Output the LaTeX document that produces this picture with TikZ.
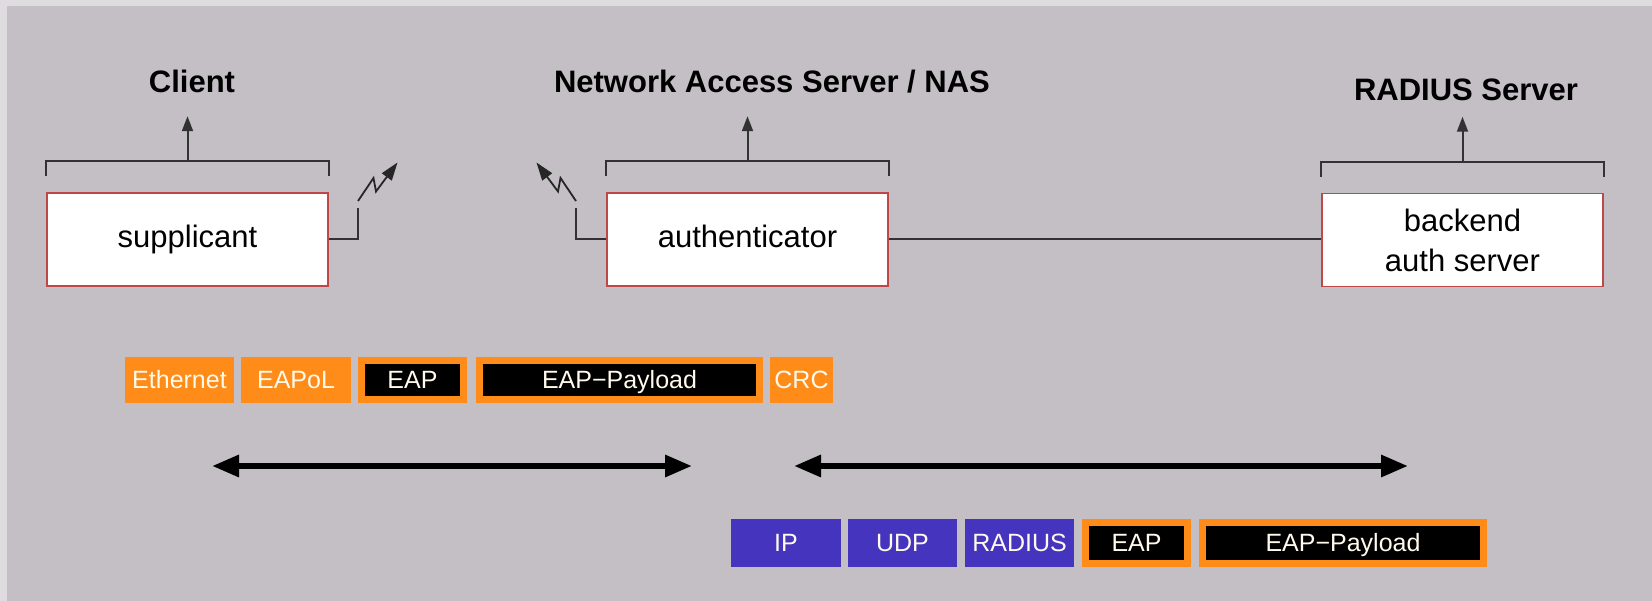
\documentclass[tikz,border=0pt]{standalone}
\usepackage{fontspec}
\setmainfont{Liberation Sans}
\usetikzlibrary{arrows.meta,calc}

\definecolor{bg}{RGB}{195,191,196}
\definecolor{bgedge}{RGB}{222,220,223}
\definecolor{pkorange}{RGB}{255,140,24}
\definecolor{pkblue}{RGB}{68,52,190}
\definecolor{boxred}{RGB}{190,72,72}
\definecolor{wirecol}{RGB}{50,50,50}
\definecolor{pktext}{RGB}{255,250,236}

\tikzset{
  role/.style={font=\fontsize{31}{36}\selectfont\bfseries, anchor=base, inner sep=0pt},
  entity/.style={draw=boxred, line width=1.5pt, fill=white, inner sep=0pt,
    minimum width=281pt, minimum height=93pt,
    font=\fontsize{31}{40}\selectfont, align=center},
  oneline/.style={text height=23pt, text depth=7pt},
  wire/.style={draw=wirecol, line width=2pt},
  upto/.style={wire, -{Triangle[length=15pt,width=11pt]}},
  bolt/.style={draw=black!85, line width=1.8pt, -{Triangle[length=18pt,width=12pt]}},
  bigarrow/.style={line width=6pt, {Triangle[length=27pt,width=21pt]}-{Triangle[length=27pt,width=21pt]}},
  pk/.style={inner sep=0pt, text=pktext, font=\fontsize{25}{30}\selectfont,
    text height=17.9pt, text depth=0pt},
  hdr/.style={pk, fill=pkorange, minimum height=#1},
  rad/.style={pk, fill=pkblue, minimum height=#1},
  eapbox/.style={pk, fill=black, draw=pkorange, line width=7pt, minimum height=#1-7pt},
}

\begin{document}
\begin{tikzpicture}[x=1pt,y=-1pt]
  % canvas
  \useasboundingbox (0,0) rectangle (1652,601);
  \fill[bgedge] (0,0) rectangle (1652,601);
  \fill[bg] (7,6) rectangle (1652,601);

  % entities
  \node[entity, oneline] (sup)  at (187.5,239.5) {supplicant};
  \node[entity, oneline] (auth) at (747.5,239.5) {authenticator};
  \node[entity] (back) at (1462.5,240) {backend\\auth server};

  % role labels
  \node[role] (client) at (192,93)  {Client};
  \node[role] (nas)    at (772,93)  {Network Access Server / NAS};
  \node[role] (rsrv)   at (1466,101) {RADIUS Server};

  % brackets with arrows pointing to the role labels
  \foreach \b in {sup,auth,back}{
    \draw[wire] ([yshift=16pt]\b.north west) -- ([yshift=31pt]\b.north west)
      -- ([yshift=31pt]\b.north east) -- ([yshift=16pt]\b.north east);
    \draw[upto] ([yshift=31pt]\b.north) -- ([yshift=76pt]\b.north);
  }

  % wireless link
  \coordinate (supant)  at (358,208);
  \coordinate (authant) at (576,208);
  \draw[wire] (sup.east) -| (supant);
  \draw[wire] (auth.west) -| (authant);
  \draw[bolt] ($(supant)+(0,-7)$) -- ($(supant)+(15.5,-30)$)
    -- ($(supant)+(18,-16.5)$) -- ($(supant)+(39.5,-45.5)$);
  \draw[bolt] ($(authant)+(0,-7)$) -- ($(authant)+(-15.5,-30)$)
    -- ($(authant)+(-18,-16.5)$) -- ($(authant)+(-39.5,-45.5)$);

  % wired link
  \draw[wire] (auth.east) -- (auth.east -| back.west);

  % EAPoL frame
  \node[hdr=46pt, minimum width=109pt] (eth)   at (179.5,380) {Ethernet};
  \node[hdr=46pt, minimum width=110pt] (eapol) at (296,380)   {EAPoL};
  \node[eapbox=46pt, minimum width=102pt] (eap1) at (412.5,380) {EAP};
  \node[eapbox=46pt, minimum width=280pt] (pay1) at (619.5,380) {EAP−Payload};
  \node[hdr=46pt, minimum width=63pt]  (crc)   at (801.5,380) {CRC};

  % RADIUS packet
  \node[rad=48pt, minimum width=110pt] (ip)     at (786,543)    {IP};
  \node[rad=48pt, minimum width=109pt] (udp)    at (902.5,543)  {UDP};
  \node[rad=48pt, minimum width=109pt] (radius) at (1019.5,543) {RADIUS};
  \node[eapbox=48pt, minimum width=102pt] (eap2) at (1136.5,543) {EAP};
  \node[eapbox=48pt, minimum width=281pt] (pay2) at (1343,543)  {EAP−Payload};

  % transport spans
  \coordinate (s1l) at (212,466);
  \coordinate (s1r) at (692,466);
  \coordinate (s2l) at (794,466);
  \coordinate (s2r) at (1408,466);
  \draw[bigarrow] (s1l) -- (s1r);
  \draw[bigarrow] (s2l) -- (s2r);
\end{tikzpicture}
\end{document}
